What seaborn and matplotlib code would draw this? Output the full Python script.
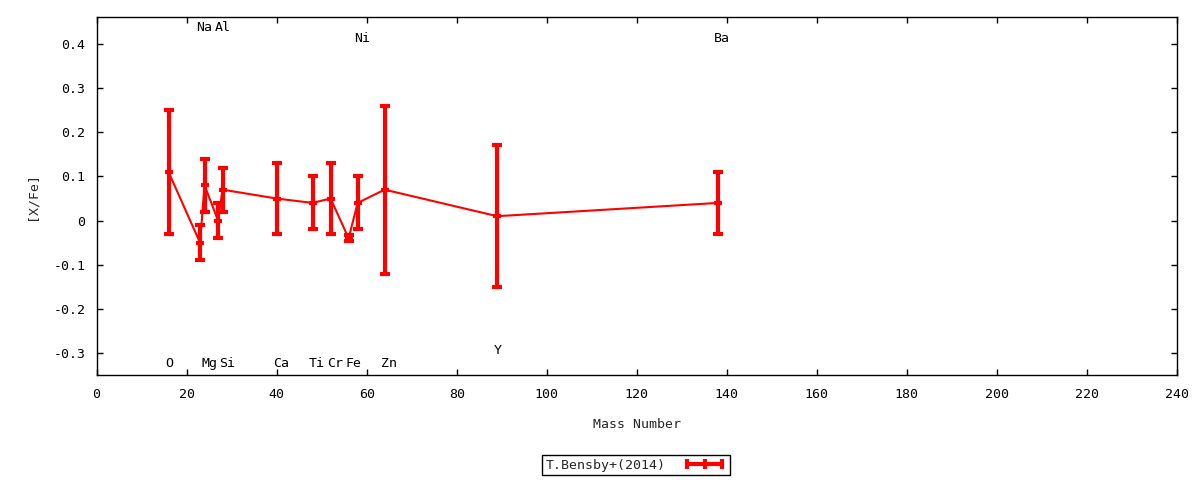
import matplotlib
matplotlib.use('Agg')
import matplotlib.pyplot as plt
import seaborn as sns
import pandas as pd
from matplotlib.lines import Line2D
from matplotlib.legend_handler import HandlerLine2D

# abundance pattern, T.Bensby+(2014)
elements = ['O', 'Na', 'Mg', 'Al', 'Si', 'Ca', 'Ti', 'Cr', 'Fe', 'Ni', 'Zn', 'Y', 'Ba']
mass_number = [16, 23, 24, 27, 28, 40, 48, 52, 56, 58, 64, 89, 138]
x_fe = [0.11, -0.05, 0.08, 0.00, 0.07, 0.05, 0.04, 0.05, -0.04, 0.04, 0.07, 0.01, 0.04]
x_fe_err = [0.14, 0.04, 0.06, 0.04, 0.05, 0.08, 0.06, 0.08, 0.007, 0.06, 0.19, 0.16, 0.07]
x_ticks = list(range(0, 241, 20))
y_ticks = [-0.3, -0.2, -0.1, 0, 0.1, 0.2, 0.3, 0.4]

# where each element name is written
label_y = [-0.323, 0.437, -0.323, 0.437, -0.323, -0.323, -0.323, -0.323,
           -0.323, 0.413, -0.323, -0.293, 0.413]

df = pd.DataFrame({'mass': mass_number, 'xfe': x_fe, 'err': x_fe_err})

sns.set_theme(style='ticks')
plt.rcParams['font.family'] = ['DejaVu Sans Mono']
plt.rcParams['font.size'] = 9.5

fig = plt.figure(figsize=(12, 4.8), dpi=100)
ax = fig.add_axes([96.5 / 1200, 1 - 375.3 / 480, (1177 - 96.5) / 1200, (375.3 - 17.3) / 480])

red = '#ff0000'
sns.lineplot(data=df, x='mass', y='xfe', ax=ax, color=red, linewidth=1.5,
             sort=True, estimator=None)
ax.errorbar(df['mass'], df['xfe'], yerr=df['err'], fmt='none', ecolor=red,
            elinewidth=3, capsize=3.3, capthick=3, zorder=3)
sns.scatterplot(data=df, x='mass', y='xfe', ax=ax, marker='_', s=40,
                color=red, linewidth=3, zorder=4)

for el, m, ly in zip(elements, mass_number, label_y):
    ax.annotate(el, (m, ly), xytext=(-2.5, 0), textcoords='offset points',
                ha='left', va='center', fontsize=9.5, color='black')

ax.set_xlim(0, 240)
ax.set_ylim(-0.35, 0.46)
ax.set_xticks(x_ticks)
ax.set_yticks(y_ticks)
ax.set_yticklabels(['%g' % v for v in y_ticks])
ax.tick_params(direction='in', length=4.5, width=1, top=True, right=True,
               labelsize=9.5, colors='black')
ax.tick_params(axis='x', pad=9)
ax.tick_params(axis='y', pad=8)
for s in ax.spines.values():
    s.set_color('black')
    s.set_linewidth(1)
ax.set_xlabel('Mass Number', fontsize=9.5, labelpad=12.5)
ax.set_ylabel('[X/Fe]', fontsize=9.5, labelpad=10.5)

handle = Line2D([0], [0], color=red, lw=3, marker='|', markersize=7, mew=3)
fig.legend([handle], ['T.Bensby+(2014)'], loc='center',
           bbox_to_anchor=(636 / 1200, 1 - 465 / 480), markerfirst=False,
           handler_map={handle: HandlerLine2D(numpoints=3)},
           frameon=True, fancybox=False, edgecolor='black', framealpha=1,
           fontsize=9.5, handlelength=3.3, borderpad=0.25, handletextpad=1.3,
           borderaxespad=0)

plt.savefig('out.png', dpi=100)
